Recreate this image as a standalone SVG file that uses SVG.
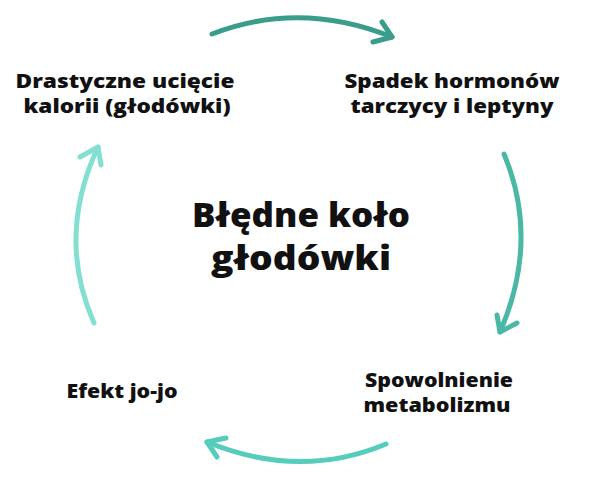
<svg xmlns="http://www.w3.org/2000/svg" width="600" height="480" viewBox="0 0 600 480">
<style>
.lbl{font-family:"Open Sans","Liberation Sans",sans-serif;font-weight:800;font-size:20px;fill:#111;text-anchor:middle}
.title{font-family:"Open Sans","Liberation Sans",sans-serif;font-weight:800;font-size:33px;fill:#111;text-anchor:middle}
.arr{fill:none;stroke-width:5;stroke-linecap:round;stroke-linejoin:round}
</style>
<rect width="600" height="480" fill="#ffffff"/>
<g id="connectors">
<g stroke="#3a9d8c" class="arr"><path class="arr" d="M212,34 Q300,0 392,37"/><polyline class="arr" points="382,22 392,37 373,42"/></g>
<g stroke="#4bb8a5" class="arr"><path class="arr" d="M504,154 Q540,240 500,332"/><polyline class="arr" points="497,315 500,332 517,323"/></g>
<g stroke="#56cdbc" class="arr"><path class="arr" d="M386,444 Q300,480 207,442"/><polyline class="arr" points="226,438 207,442 217,457"/></g>
<g stroke="#82dfd2" class="arr"><path class="arr" d="M94,323 Q56,237 98,147"/><polyline class="arr" points="80,157 98,147 101,165"/></g>
</g>
<g id="node-center">
<text class="title" x="301" y="227" textLength="218" lengthAdjust="spacingAndGlyphs">Błędne koło</text>
<text class="title" x="301" y="270" textLength="180" lengthAdjust="spacingAndGlyphs">głodówki</text>
</g>
<g id="node-drastyczne">
<text class="lbl" x="125" y="88" textLength="219" lengthAdjust="spacingAndGlyphs">Drastyczne ucięcie</text>
<text class="lbl" x="127" y="113" textLength="207" lengthAdjust="spacingAndGlyphs">kalorii (głodówki)</text>
</g>
<g id="node-spadek">
<text class="lbl" x="452" y="88" textLength="215" lengthAdjust="spacingAndGlyphs">Spadek hormonów</text>
<text class="lbl" x="452" y="113" textLength="203" lengthAdjust="spacingAndGlyphs">tarczycy i leptyny</text>
</g>
<g id="node-spowolnienie">
<text class="lbl" x="439" y="387" textLength="148" lengthAdjust="spacingAndGlyphs">Spowolnienie</text>
<text class="lbl" x="437" y="412" textLength="147" lengthAdjust="spacingAndGlyphs">metabolizmu</text>
</g>
<g id="node-efekt">
<text class="lbl" x="122" y="398" textLength="111" lengthAdjust="spacingAndGlyphs">Efekt jo-jo</text>
</g>
</svg>
